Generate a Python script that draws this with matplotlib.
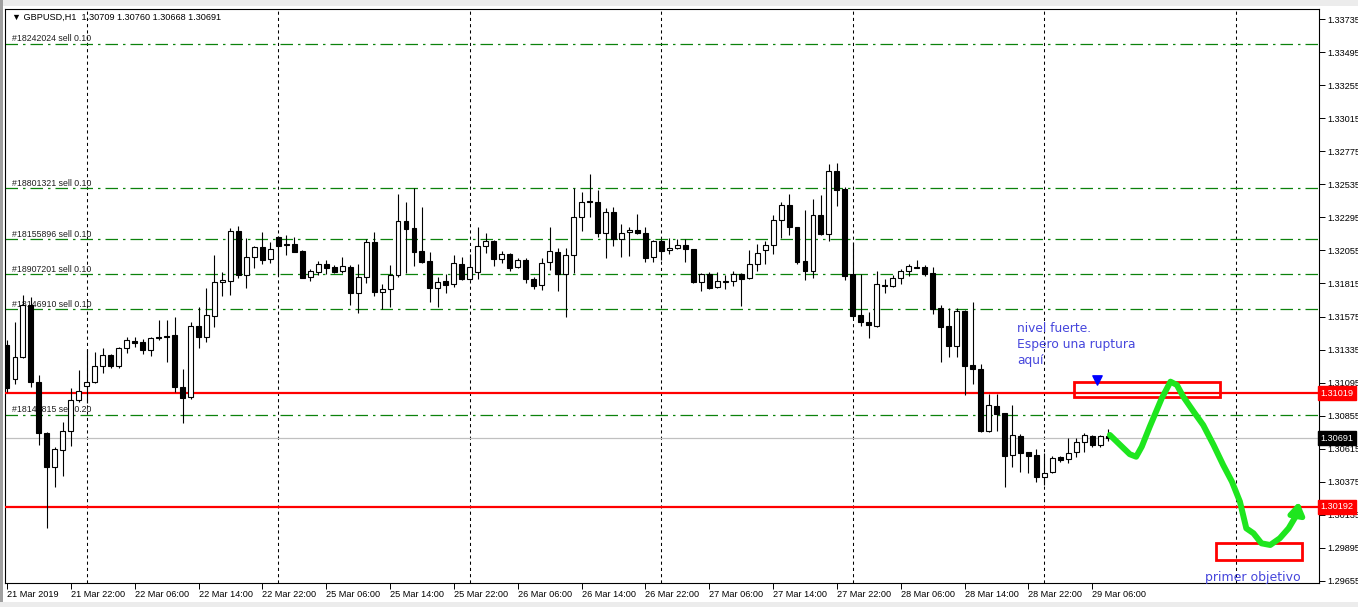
import matplotlib
matplotlib.use("Agg")
import matplotlib.pyplot as plt
import matplotlib.transforms as mtransforms
from matplotlib.patches import Rectangle

# ---------------- data ----------------
opens = [1.31368,1.31121,1.31281,1.31659,1.31100,1.30729,1.30483,1.30606,1.30744,1.30969,
         1.31071,1.31100,1.31216,1.31296,1.31216,1.31346,1.31397,1.31390,1.31332,1.31426,
         1.31434,1.31441,1.31063,1.30991,1.31506,1.31426,1.31579,1.31826,1.31833,1.32196,
         1.31876,1.32007,1.32080,1.31993,1.32152,1.32102,1.32102,1.32051,1.31862,1.31898,
         1.31956,1.31935,1.31905,1.31935,1.31746,1.31862,1.32116,1.31753,1.31775,1.31876,
         1.32268,1.32218,1.32051,1.31978,1.31782,1.31833,1.31811,1.31956,1.31847,1.31898,
         1.32087,1.32123,1.31993,1.32029,1.31935,1.31985,1.31847,1.31804,1.31971,1.32043,
         1.31884,1.32022,1.32298,1.32414,1.32406,1.32181,1.32334,1.32138,1.32189,1.32203,
         1.32181,1.32007,1.32123,1.32058,1.32072,1.32094,1.32065,1.31826,1.31884,1.31789,
         1.31826,1.31833,1.31884,1.31854,1.31956,1.32058,1.32094,1.32276,1.32385,1.32225,
         1.31978,1.31905,1.32312,1.32174,1.32631,1.32501,1.31884,1.31586,1.31535,1.31506,
         1.31804,1.31797,1.31855,1.31905,1.31927,1.31935,1.31891,1.31637,1.31506,1.31361,
         1.31615,1.31223,1.31194,1.30744,1.30925,1.30874,1.30570,1.30708,1.30591,1.30570,
         1.30410,1.30446,1.30555,1.30541,1.30591,1.30664,1.30708,1.30642,1.30709]
highs = [1.31405,1.31535,1.31731,1.31717,1.31150,1.30737,1.30628,1.30809,1.31056,1.31187,
         1.31339,1.31317,1.31346,1.31303,1.31354,1.31426,1.31426,1.31412,1.31426,1.31550,
         1.31550,1.31572,1.31194,1.31535,1.31644,1.31782,1.32022,1.31898,1.32218,1.32232,
         1.32145,1.32087,1.32189,1.32116,1.32160,1.32167,1.32152,1.32058,1.31920,1.31978,
         1.31985,1.31949,1.32007,1.31949,1.31956,1.32138,1.32189,1.31811,1.31949,1.32465,
         1.32406,1.32508,1.32370,1.32043,1.31862,1.31884,1.32022,1.32007,1.32029,1.32225,
         1.32181,1.32131,1.32051,1.32036,1.32000,1.32000,1.31862,1.32000,1.32225,1.32072,
         1.32072,1.32508,1.32479,1.32610,1.32494,1.32363,1.32370,1.32247,1.32225,1.32319,
         1.32225,1.32131,1.32138,1.32145,1.32138,1.32138,1.32065,1.31891,1.31898,1.31898,
         1.31876,1.31905,1.31891,1.32058,1.32102,1.32123,1.32312,1.32406,1.32465,1.32225,
         1.32348,1.32428,1.32457,1.32682,1.32690,1.32515,1.32116,1.31884,1.31608,1.31905,
         1.31847,1.31876,1.31920,1.31956,1.31985,1.31949,1.31935,1.31659,1.31637,1.31637,
         1.31622,1.31680,1.31230,1.31013,1.31013,1.30874,1.30933,1.30722,1.30591,1.30613,
         1.30584,1.30562,1.30562,1.30693,1.30693,1.30729,1.30715,1.30715,1.30760]
lows = [1.31027,1.31085,1.31274,1.31063,1.30642,1.30040,1.30337,1.30417,1.30635,1.30954,
        1.30947,1.31092,1.31165,1.31201,1.31201,1.31310,1.31354,1.31303,1.31288,1.31405,
        1.31245,1.31027,1.30802,1.30976,1.31346,1.31390,1.31499,1.31724,1.31731,1.31855,
        1.31782,1.31927,1.31956,1.31964,1.31876,1.32022,1.32043,1.31855,1.31833,1.31876,
        1.31884,1.31891,1.31891,1.31659,1.31601,1.31818,1.31724,1.31630,1.31644,1.31862,
        1.31891,1.31942,1.31964,1.31680,1.31644,1.31746,1.31789,1.31840,1.31840,1.31847,
        1.32036,1.31942,1.31964,1.31905,1.31927,1.31818,1.31775,1.31768,1.31913,1.31760,
        1.31572,1.31891,1.32196,1.32298,1.32152,1.32000,1.32087,1.32007,1.32014,1.32174,
        1.31971,1.31971,1.31985,1.32029,1.32065,1.31971,1.31818,1.31760,1.31775,1.31782,
        1.31775,1.31797,1.31651,1.31847,1.31905,1.31956,1.32029,1.32145,1.32167,1.31956,
        1.31840,1.31855,1.32167,1.32123,1.32377,1.31840,1.31564,1.31506,1.31419,1.31499,
        1.31746,1.31789,1.31811,1.31869,1.31927,1.31869,1.31593,1.31245,1.31281,1.31281,
        1.31005,1.31085,1.30737,1.30737,1.30744,1.30337,1.30483,1.30446,1.30439,1.30374,
        1.30352,1.30439,1.30519,1.30512,1.30555,1.30591,1.30628,1.30628,1.30668]
closes = [1.31056,1.31281,1.31659,1.31100,1.30729,1.30483,1.30613,1.30744,1.30969,1.31034,
          1.31100,1.31216,1.31296,1.31216,1.31346,1.31405,1.31383,1.31332,1.31419,1.31419,
          1.31426,1.31063,1.30983,1.31506,1.31426,1.31586,1.31826,1.31840,1.32196,1.31876,
          1.32007,1.32080,1.31985,1.32065,1.32087,1.32094,1.32043,1.31855,1.31905,1.31956,
          1.31927,1.31898,1.31942,1.31746,1.31862,1.32116,1.31753,1.31775,1.31876,1.32268,
          1.32210,1.32043,1.31971,1.31782,1.31826,1.31804,1.31964,1.31847,1.31935,1.32087,
          1.32123,1.31993,1.32029,1.31927,1.31985,1.31847,1.31797,1.31964,1.32051,1.31884,
          1.32022,1.32298,1.32406,1.32406,1.32181,1.32334,1.32138,1.32181,1.32203,1.32181,
          1.32000,1.32123,1.32051,1.32072,1.32094,1.32065,1.31826,1.31884,1.31782,1.31833,
          1.31833,1.31884,1.31847,1.31956,1.32036,1.32094,1.32276,1.32385,1.32225,1.31971,
          1.31905,1.32312,1.32174,1.32631,1.32494,1.31869,1.31579,1.31535,1.31513,1.31811,
          1.31797,1.31855,1.31905,1.31942,1.31935,1.31884,1.31630,1.31499,1.31361,1.31615,
          1.31216,1.31194,1.30744,1.30933,1.30867,1.30562,1.30715,1.30584,1.30562,1.30410,
          1.30439,1.30548,1.30533,1.30584,1.30664,1.30715,1.30642,1.30708,1.30691]

x_tick_pos = [0, 8, 16, 24, 32, 40, 48, 56, 64, 72, 80, 88, 96, 104, 112, 120, 128, 136]
x_tick_labels = ["21 Mar 2019", "21 Mar 22:00", "22 Mar 06:00", "22 Mar 14:00", "22 Mar 22:00",
                 "25 Mar 06:00", "25 Mar 14:00", "25 Mar 22:00", "26 Mar 06:00", "26 Mar 14:00",
                 "26 Mar 22:00", "27 Mar 06:00", "27 Mar 14:00", "27 Mar 22:00", "28 Mar 06:00",
                 "28 Mar 14:00", "28 Mar 22:00", "29 Mar 06:00"]
day_separators = [10, 34, 58, 82, 106, 130, 154]
y_ticks = [1.33735, 1.33495, 1.33255, 1.33015, 1.32775, 1.32535, 1.32295, 1.32055, 1.31815,
           1.31575, 1.31335, 1.31095, 1.30855, 1.30615, 1.30375, 1.30135, 1.29895, 1.29655]

order_prices = [1.33553, 1.32506, 1.32136, 1.31882, 1.31628, 1.30860]
order_labels = ["#18242024 sell 0.10", "#18801321 sell 0.10", "#18155896 sell 0.10",
                "#18907201 sell 0.10", "#18146910 sell 0.10", "#18141815 sell 0.20"]
red_levels = [1.31019, 1.30192]
current_price = 1.30691

zone_break = (133.7, 152.0, 1.30989, 1.31102)
zone_target = (151.5, 162.3, 1.29807, 1.29929)
marker_point = (136.6, 1.31112)

plan_bars = [138.2, 139.5, 140.7, 141.5, 142.2, 143.2, 144.7, 145.8, 146.6, 147.4, 148.7,
             149.9, 151.2, 152.4, 153.5, 154.5, 155.3, 156.2, 157.2, 158.3, 159.5, 160.6, 161.6]
plan_prices = [1.30715, 1.30642, 1.30575, 1.30557, 1.30630, 1.30775, 1.30981, 1.31102, 1.31078,
               1.30993, 1.30884, 1.30787, 1.30642, 1.30497, 1.30376, 1.30231, 1.30037, 1.30001,
               1.29928, 1.29916, 1.29965, 1.30037, 1.30134]
plan_tip = (161.9, 1.30231)

# ---------------- figure ----------------
W, H = 1358, 607
fig = plt.figure(figsize=(W / 100, H / 100), dpi=100)
fig.patch.set_facecolor("white")
ax = fig.add_axes([5 / W, 1 - 583 / H, (1319 - 5) / W, (583 - 9) / H])
ax.set_xlim(-0.25, 164.41)
ax.set_ylim(1.29640, 1.33808)
ax.set_facecolor("white")

axis_font = ["Liberation Sans", "DejaVu Sans"]
blue = "#4646dc"
green_ord = "#0c820c"
lime = "#1ee61e"

# window chrome
fig.patches.append(Rectangle((0, 1 - 6 / H), 1, 6 / H, transform=fig.transFigure,
                             facecolor="#ececec", edgecolor="none"))
fig.patches.append(Rectangle((0, 0), 3 / W, 1, transform=fig.transFigure,
                             facecolor="#a0a0a0", edgecolor="none"))
fig.patches.append(Rectangle((0, 0), 1, 5 / H, transform=fig.transFigure,
                             facecolor="#ececec", edgecolor="none"))

# day separators
for d in day_separators:
    ax.axvline(d, color="black", lw=0.75, ls=(0, (3, 3)), zorder=1)

# order lines
blend = mtransforms.blended_transform_factory(ax.transAxes, ax.transData)
for p, lab in zip(order_prices, order_labels):
    ax.axhline(p, color=green_ord, lw=0.9, ls=(0, (10, 4, 2, 4)), zorder=1)
    ax.text(0.0053, p + 0.00005, lab, transform=blend, fontsize=6.3, family=axis_font,
            color="#202020", va="bottom", ha="left", zorder=2)

ax.axhline(current_price, color="#c0c0c0", lw=0.9, zorder=1)
for p in red_levels:
    ax.axhline(p, color="#ff0000", lw=1.6, zorder=3)

# candles
idx = list(range(len(opens)))
ax.vlines(idx, lows, highs, color="black", lw=0.8, zorder=4)
bottoms = [min(o, c) for o, c in zip(opens, closes)]
heights = [max(abs(c - o), 0.000015) for o, c in zip(opens, closes)]
faces = ["white" if c > o else "black" for o, c in zip(opens, closes)]
ax.bar(idx, heights, bottom=bottoms, width=0.62, color=faces, edgecolor="black",
       linewidth=0.8, zorder=5)

# annotations
for x0, x1, y0, y1 in (zone_break, zone_target):
    ax.add_patch(Rectangle((x0, y0), x1 - x0, y1 - y0, fill=False,
                           edgecolor="#ff0000", lw=2.0, zorder=6))
ax.scatter([marker_point[0]], [marker_point[1]], marker="v", s=45, color="#0000ff", zorder=7)
ax.plot(plan_bars, plan_prices, color=lime, lw=4.3, solid_capstyle="round",
        solid_joinstyle="round", zorder=8)
ax.annotate("", xy=plan_tip, xytext=(plan_bars[-1], plan_prices[-1]),
            arrowprops=dict(arrowstyle="-|>,head_length=0.7,head_width=0.45",
                            color=lime, lw=4.0, shrinkA=0, shrinkB=0), zorder=8)
ax.text(126.6, 1.31375, "nivel fuerte.\nEspero una ruptura\naquí", color=blue,
        fontsize=8.8, family="DejaVu Sans", va="center", ha="left", linespacing=1.3, zorder=9)
ax.text(156.1, 1.29677, "primer objetivo", color=blue, fontsize=9, family="DejaVu Sans",
        va="center", ha="center", zorder=9)

# header
ax.text(0.0053, 0.986, "\u25bc GBPUSD,H1  1.30709 1.30760 1.30668 1.30691",
        transform=ax.transAxes, fontsize=6.6, family=axis_font, color="black",
        va="center", ha="left", zorder=9)

# axes
for s in ax.spines.values():
    s.set_color("black")
    s.set_linewidth(0.8)
ax.yaxis.tick_right()
ax.set_yticks(y_ticks)
ax.set_yticklabels([f"{v:.5f}" for v in y_ticks], family=axis_font)
ax.set_xticks(x_tick_pos)
ax.set_xticklabels(x_tick_labels, ha="left", family=axis_font)
ax.tick_params(axis="y", length=4, width=0.7, pad=2, labelsize=6.6, colors="black")
ax.tick_params(axis="x", length=4, width=0.7, pad=1, labelsize=6.6, colors="black")

# price boxes on the axis
for p, fc in [(red_levels[0], "#ff0000"), (current_price, "#000000"), (red_levels[1], "#ff0000")]:
    ax.text(1.0012, p, f"{p:.5f}", transform=blend, fontsize=6.6, family=axis_font,
            color="white", va="center", ha="left", clip_on=False, zorder=10,
            bbox=dict(boxstyle="square,pad=0.25", fc=fc, ec=fc))

fig.savefig("out.png", dpi=100, facecolor=fig.get_facecolor())
